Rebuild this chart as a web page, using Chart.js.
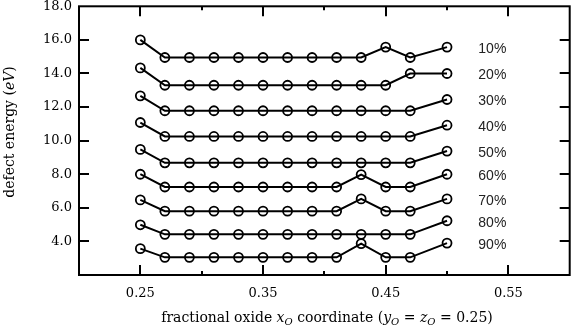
<!DOCTYPE html>
<html>
<head>
<meta charset="utf-8">
<script src="https://cdn.jsdelivr.net/npm/chart.js@4.4.1/dist/chart.umd.min.js"></script>
<style>
  html, body { margin: 0; padding: 0; background: #fff; }
  canvas { display: block; }
</style>
</head>
<body>
<canvas id="myChart" width="576" height="327"></canvas>
<script>
// x positions of the oxide coordinate
const xCoords = [0.25, 0.27, 0.29, 0.31, 0.33, 0.35, 0.37, 0.39, 0.41, 0.43, 0.45, 0.47, 0.50];

const seriesNames = ["10%", "20%", "30%", "40%", "50%", "60%", "70%", "80%", "90%"];

const e10 = [16.0, 14.95, 14.95, 14.95, 14.95, 14.95, 14.95, 14.95, 14.95, 14.95, 15.57, 14.95, 15.57];
const e20 = [14.33, 13.3, 13.3, 13.3, 13.3, 13.3, 13.3, 13.3, 13.3, 13.3, 13.3, 14.0, 14.0];
const e30 = [12.67, 11.78, 11.78, 11.78, 11.78, 11.78, 11.78, 11.78, 11.78, 11.78, 11.78, 11.78, 12.45];
const e40 = [11.08, 10.25, 10.25, 10.25, 10.25, 10.25, 10.25, 10.25, 10.25, 10.25, 10.25, 10.25, 10.92];
const e50 = [9.48, 8.68, 8.68, 8.68, 8.68, 8.68, 8.68, 8.68, 8.68, 8.68, 8.68, 8.68, 9.38];
const e60 = [8.0, 7.24, 7.24, 7.24, 7.24, 7.24, 7.24, 7.24, 7.24, 7.98, 7.24, 7.24, 8.0];
const e70 = [6.47, 5.8, 5.8, 5.8, 5.8, 5.8, 5.8, 5.8, 5.8, 6.53, 5.8, 5.8, 6.53];
const e80 = [4.99, 4.42, 4.42, 4.42, 4.42, 4.42, 4.42, 4.42, 4.42, 4.42, 4.42, 4.42, 5.23];
const e90 = [3.57, 3.05, 3.05, 3.05, 3.05, 3.05, 3.05, 3.05, 3.05, 3.87, 3.05, 3.05, 3.9];

const allSeries = [e10, e20, e30, e40, e50, e60, e70, e80, e90];

const xMin = 0.2, xMax = 0.6;
const yMin = 2, yMax = 18;
const xMajorTicks = [0.25, 0.35, 0.45, 0.55];

const serif = "'DejaVu Serif', 'Liberation Serif', serif";
const sans = "'Liberation Sans', Arial, sans-serif";

const datasets = allSeries.map((vals, i) => ({
    label: seriesNames[i],
    data: vals.map((v, j) => ({ x: xCoords[j], y: v })),
    borderColor: "#000",
    borderWidth: 2,
    pointRadius: 4.5,
    pointBorderWidth: 1.8,
    pointBorderColor: "#000",
    pointBackgroundColor: "rgba(0,0,0,0)",
    pointStyle: "circle",
    tension: 0,
    fill: false
}));

const isMajorX = (v) => xMajorTicks.some(m => Math.abs(m - v) < 1e-6);

// frame, inward ticks, series labels and axis titles
const decorations = {
    id: "decorations",
    afterDraw(chart) {
        const ctx = chart.ctx;
        const a = chart.chartArea;
        const xs = chart.scales.x;
        const ys = chart.scales.y;
        ctx.save();
        ctx.strokeStyle = "#000";
        ctx.lineWidth = 2;
        ctx.strokeRect(a.left, a.top, a.right - a.left, a.bottom - a.top);

        // x ticks (bottom and top)
        xs.ticks.forEach(t => {
            const px = Math.round(xs.getPixelForValue(t.value));
            if (t.value <= xMin + 1e-6 || t.value >= xMax - 1e-6) return;
            const len = isMajorX(t.value) ? 10 : 4;
            ctx.beginPath();
            ctx.moveTo(px, a.bottom);
            ctx.lineTo(px, a.bottom - len);
            ctx.moveTo(px, a.top);
            ctx.lineTo(px, a.top + len);
            ctx.stroke();
        });
        // y ticks (left and right)
        ys.ticks.forEach(t => {
            if (t.value <= yMin || t.value >= yMax) return;
            const py = Math.round(ys.getPixelForValue(t.value));
            ctx.beginPath();
            ctx.moveTo(a.left, py);
            ctx.lineTo(a.left + 10, py);
            ctx.moveTo(a.right, py);
            ctx.lineTo(a.right - 10, py);
            ctx.stroke();
        });

        // series labels next to the last point
        ctx.fillStyle = "#222";
        ctx.font = "14px " + sans;
        ctx.textAlign = "left";
        ctx.textBaseline = "middle";
        allSeries.forEach((vals, i) => {
            const px = xs.getPixelForValue(0.5255);
            const py = ys.getPixelForValue(vals[vals.length - 1]) + 2;
            ctx.fillText(seriesNames[i], px, py);
        });

        // x title with italic/subscript parts
        const xTitle = [
            ["fractional oxide ", "n"], ["x", "i"], ["O", "sub"],
            [" coordinate (", "n"], ["y", "i"], ["O", "sub"], [" = ", "n"],
            ["z", "i"], ["O", "sub"], [" = 0.25)", "n"]
        ];
        drawRich(ctx, xTitle, 327, 318, 14);

        // y title rotated
        ctx.save();
        ctx.translate(10, 132);
        ctx.rotate(-Math.PI / 2);
        drawRich(ctx, [["defect energy (", "n"], ["eV", "i"], [")", "n"]], 0, 0, 14);
        ctx.restore();

        ctx.restore();
    }
};

function fontFor(style, size) {
    if (style === "i") return "italic " + size + "px " + serif;
    if (style === "sub") return "italic " + Math.round(size * 0.7) + "px " + serif;
    return size + "px " + serif;
}

function drawRich(ctx, parts, cx, cy, size) {
    ctx.fillStyle = "#000";
    ctx.textBaseline = "middle";
    ctx.textAlign = "left";
    let total = 0;
    parts.forEach(p => {
        ctx.font = fontFor(p[1], size);
        total += ctx.measureText(p[0]).width;
    });
    let x = cx - total / 2;
    parts.forEach(p => {
        ctx.font = fontFor(p[1], size);
        const dy = p[1] === "sub" ? size * 0.28 : 0;
        ctx.fillText(p[0], x, cy + dy);
        x += ctx.measureText(p[0]).width;
    });
}

const ctx = document.getElementById("myChart").getContext("2d");
const myChart = new Chart(ctx, {
    type: "line",
    data: { datasets: datasets },
    options: {
        responsive: false,
        animation: false,
        devicePixelRatio: 1,
        layout: { padding: { left: 0, right: 2, top: 6, bottom: 0 } },
        plugins: {
            legend: { display: false },
            tooltip: { enabled: false }
        },
        scales: {
            x: {
                type: "linear",
                min: xMin,
                max: xMax,
                grid: { display: false, drawTicks: false },
                border: { display: false },
                afterFit: (s) => { s.height = 52; s.paddingLeft = 0; s.paddingRight = 0; },
                ticks: {
                    stepSize: 0.05,
                    padding: 11,
                    color: "#000",
                    maxRotation: 0,
                    autoSkip: false,
                    font: { family: serif, size: 13 },
                    callback: (v) => isMajorX(v) ? v.toFixed(2) : ""
                }
            },
            y: {
                type: "linear",
                min: yMin,
                max: yMax,
                grid: { display: false, drawTicks: false },
                border: { display: false },
                afterFit: (s) => { s.width = 79; s.paddingTop = 0; s.paddingBottom = 0; },
                ticks: {
                    stepSize: 2,
                    padding: 7,
                    color: "#000",
                    font: { family: serif, size: 13 },
                    callback: (v) => v === yMin ? "" : v.toFixed(1)
                }
            }
        }
    },
    plugins: [decorations]
});
</script>
</body>
</html>
